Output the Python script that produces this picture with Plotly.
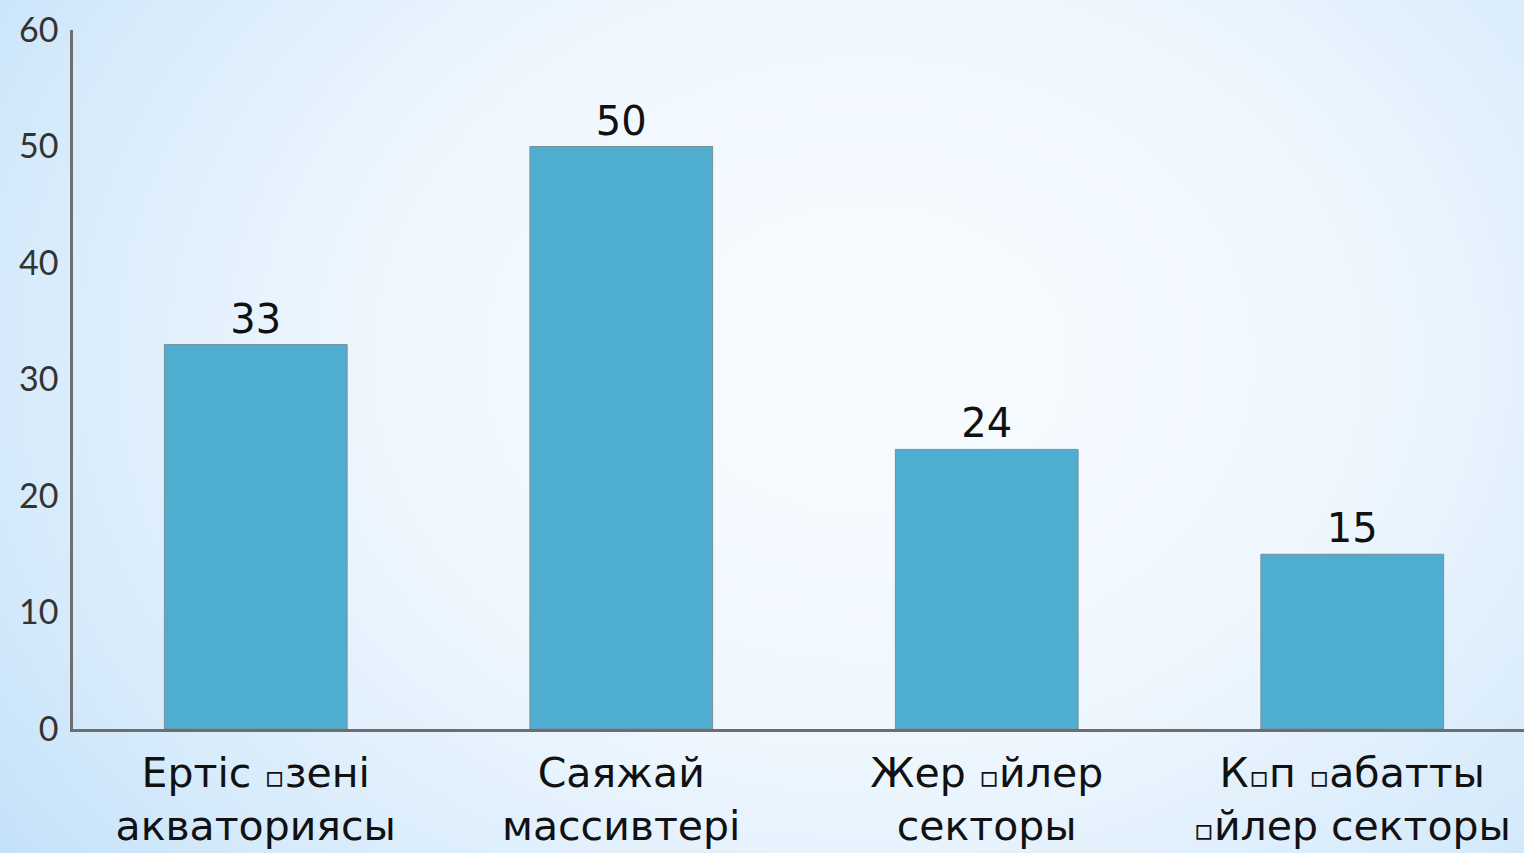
import plotly.graph_objects as go
import base64

BOX = '<span style="font-size:30px">▫</span>'
categories = [f"Ертіс {BOX}зені<br>акваториясы", "Саяжай<br>массивтері",
              f"Жер {BOX}йлер<br>секторы", f"К{BOX}п {BOX}абатты<br>{BOX}йлер секторы"]
values = [33, 50, 24, 15]
y_ticks = [0, 10, 20, 30, 40, 50, 60]

W, H = 1524, 853
L, R, T, B = 73, 0, 30, 124
pw, ph = W - L - R, H - T - B

svg = f'''<svg xmlns="http://www.w3.org/2000/svg" width="{W}" height="{H}" viewBox="0 0 {W} {H}" preserveAspectRatio="none">
<defs><radialGradient id="g" cx="0.57" cy="0.42" r="0.72" gradientTransform="translate(0.57 0.42) scale(1 1.4) translate(-0.57 -0.42)">
<stop offset="0" stop-color="#f8fcff"/><stop offset="0.45" stop-color="#eff7fe"/><stop offset="0.8" stop-color="#d5eafb"/><stop offset="1" stop-color="#c2e0f9"/></radialGradient></defs>
<rect width="{W}" height="{H}" fill="url(#g)"/></svg>'''
bg = "data:image/svg+xml;base64," + base64.b64encode(svg.encode()).decode()

fig = go.Figure()
fig.add_trace(go.Bar(
    x=list(range(len(categories))), y=values,
    width=0.5,
    marker=dict(color="#4fadcf", line=dict(color="#7a8f99", width=1)),
    text=[str(v) for v in values], textposition="outside",
    textfont=dict(family="DejaVu Sans", size=40, color="#111"),
    cliponaxis=False,
))

fig.add_layout_image(dict(
    source=bg, xref="paper", yref="paper",
    x=-L / pw, y=1 + T / ph, sizex=W / pw, sizey=H / ph,
    sizing="stretch", xanchor="left", yanchor="top", layer="below",
))

fig.update_layout(
    width=W, height=H,
    margin=dict(l=L, r=R, t=T, b=B, pad=0),
    paper_bgcolor="#e6f2fc", plot_bgcolor="rgba(0,0,0,0)",
    showlegend=False, bargap=0.5,
)
fig.update_xaxes(
    range=[-0.5, -0.5 + pw / 365.5],
    tickmode="array", tickvals=list(range(len(categories))), ticktext=categories,
    tickfont=dict(family="DejaVu Sans", size=41, color="#111"),
    showline=True, linecolor="#6e6e6e", linewidth=2.5,
    showgrid=False, zeroline=False, ticks="", ticklabelstandoff=6,
)
fig.update_yaxes(
    range=[0, 60], tickmode="array", tickvals=y_ticks,
    tickfont=dict(family="Lato", size=34, color="#333"),
    showline=True, linecolor="#6e6e6e", linewidth=2.5,
    showgrid=False, zeroline=False, ticks="", ticklabelstandoff=5,
)

fig.write_html("out.html", config={"displayModeBar": False},
               post_script="document.body.style.margin='0';document.body.style.overflow='hidden';")
